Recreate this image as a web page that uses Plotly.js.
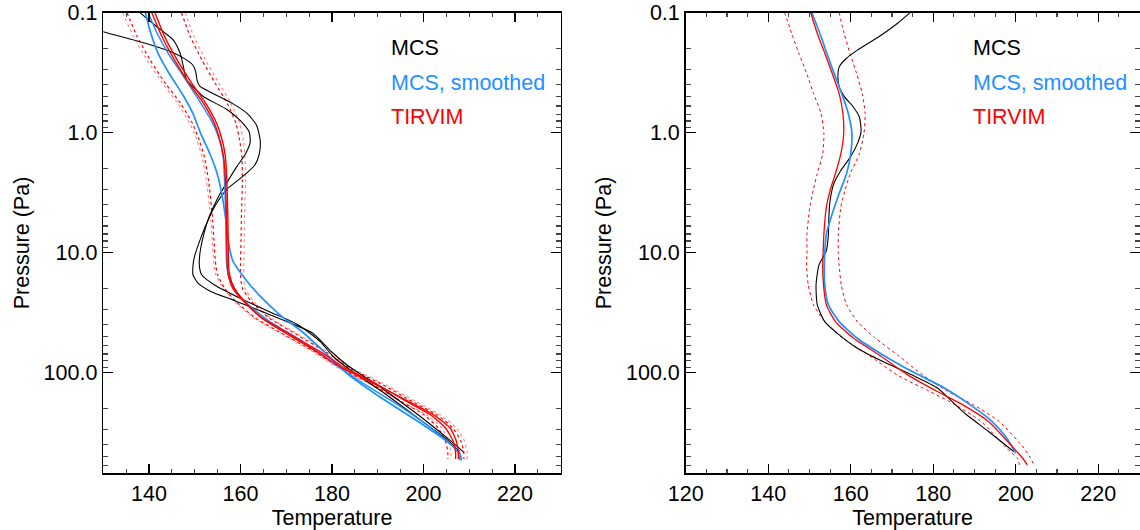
<!DOCTYPE html>
<html>
<head>
<meta charset="utf-8">
<script src="https://cdn.plot.ly/plotly-3.0.1.min.js"></script>
<style>html,body{margin:0;padding:0;background:#fff;}#chart{width:1140px;height:530px;}</style>
</head>
<body>
<div id="chart"></div>
<script>
// ---------- Left panel data (pressure in Pa, temperature in K) ----------
const L_blackA_P = [0.128,0.144,0.18,0.212,0.245,0.274,0.311,0.366,0.41,0.479,0.573,0.694,0.869,1.16,1.5,1.87,2.35,2.94,3.92,5.58,7.94,10.9,12.9,15.3,18.0,21.1,24.8,31.0,38.8,47.0,66.8,89,135,225,352,420,463];
const L_blackA_T = [126.0,130.0,139.2,144.8,148.0,149.6,150.2,150.5,151.1,154.3,158.3,161.5,163.5,164.3,164.1,163.1,160.3,157.1,154.7,152.7,151.1,149.9,149.6,149.6,150.7,153.5,158.3,164.7,171.0,175.8,179.8,183.7,190.9,198.8,205.2,207.6,208.8];

const L_blackB_P = [0.1,0.131,0.169,0.218,0.281,0.363,0.43,0.504,0.63,0.79,0.99,1.2,1.5,1.94,2.58,3.45,5.07,7.45,10.3,12.9,15.3,18.6,24.0,31.0,40.1,55.2,76,98,144,240,364,455];
const L_blackB_T = [138.0,141.7,145.3,146.8,147.5,148.2,150.0,152.0,156.7,159.9,161.9,162.1,161.1,159.1,157.1,155.1,153.1,151.8,151.1,151.0,151.5,154.3,159.9,166.2,172.6,177.4,180.6,184.5,190.9,198.8,205.2,207.9];

const L_blue1_P = [0.1,0.149,0.219,0.321,0.472,0.694,1.02,1.5,2.2,3.24,5.07,7.94,11.7,17.5,24.0,33.0,45.5,71.3,105,164,256,376,470,540];
const L_blue1_T = [139.2,140.4,142.0,144.4,147.2,149.6,151.3,153.3,154.9,155.9,156.7,157.3,158.3,161.5,164.7,168.6,173.4,179.0,183.7,190.9,198.8,205.2,207.9,208.3];

const L_blue2_P = [0.1,0.149,0.219,0.342,0.536,0.79,1.09,1.59,2.5,4.0,6.7,12.9,16.4,22.5,29.1,37.6,55.2,81,119,186,310,455,540];
const L_blue2_T = [139.8,141.8,144.2,147.6,150.9,153.6,155.2,156.2,156.5,156.7,156.8,157.0,157.6,159.6,162.6,166.4,173.6,179.8,186.2,194.4,202.6,207.4,208.0];

const L_P = [0.1,0.158,0.25,0.39,0.57,0.84,1.16,1.6,2.5,4.75,7.9,12.9,15.3,19.8,25.6,35,48.5,67,92,127,175,225,290,376,460,525];
const L_red1_T = [140.6,142.8,145.6,148.8,151.9,154.3,155.5,156.3,156.7,156.9,157.0,157.1,157.3,158.3,160.7,164.7,171.0,177.4,182.9,190.1,196.4,201.5,204.8,206.5,207.0,207.0];
const L_red2_T = [141.3,143.4,146.2,149.4,152.4,154.8,156.0,156.7,157.0,157.2,157.3,157.4,157.6,158.6,160.9,164.6,170.5,176.6,182.3,189.7,196.8,202.2,205.8,207.2,207.6,207.6];
const L_red1_lo = [135.2,137.4,140.3,143.6,146.9,149.5,151.0,152.1,153.0,153.8,154.2,154.6,155.0,156.5,159.0,163.2,169.6,176.2,181.8,189.0,195.2,200.1,203.2,204.8,205.3,205.3];
const L_red1_hi = [147.1,149.0,151.6,154.5,157.1,159.0,159.8,160.3,160.4,160.2,160.1,160.0,160.0,160.4,162.4,166.2,172.4,178.6,184.0,191.2,197.6,202.9,206.4,208.2,208.8,208.8];
const L_red2_lo = [134.3,136.6,139.6,143.0,146.3,148.9,150.5,151.6,152.5,153.4,153.8,154.2,154.6,156.2,158.7,162.9,169.3,175.8,181.4,188.6,195.0,200.6,204.0,205.5,206.0,206.0];
const L_red2_hi = [147.9,149.8,152.4,155.3,157.9,159.8,160.6,161.0,161.1,160.9,160.8,160.7,160.7,161.0,162.9,166.6,172.8,179.0,184.4,191.8,198.4,203.6,207.2,209.0,209.5,209.5];

// ---------- Right panel data ----------
const R_black_P = [0.1,0.123,0.158,0.205,0.241,0.283,0.343,0.415,0.503,0.591,0.74,0.986,1.24,1.6,2.07,2.67,3.67,5.07,6.98,9.62,12.7,18.6,27.3,37.6,48.5,62.7,81,105,135,175,225,310,455];
const R_black_T = [174.4,171.3,166.9,161.6,158.9,157.2,156.9,157.2,158.5,160.3,162.1,162.5,161.6,159.9,157.6,155.9,155.0,154.7,154.6,154.1,152.3,151.6,151.9,153.7,157.2,161.6,167.8,174.9,181.1,184.6,188.1,193.4,199.5];

const R_blue_P = [0.1,0.158,0.233,0.343,0.503,0.69,1.02,1.5,2.19,3.22,4.77,6.98,10.2,12.7,18.6,27.3,37.6,51.8,71.3,98.2,135,186,256,352,470];
const R_blue_T = [150.6,152.8,154.5,156.3,158.1,159.4,160.3,160.0,159.0,157.2,155.5,154.1,153.7,153.6,153.7,154.6,157.2,161.6,167.8,174.9,182.8,189.0,194.3,197.8,200.0];

const R_P = [0.1,0.149,0.217,0.32,0.473,0.69,1.02,1.5,2.19,3.03,4.17,6.98,10.2,12.7,18.6,27.3,37.6,51.8,71.3,105,144,186,256,427,518,588];
const R_red_T = [150.3,151.9,153.7,155.5,157.2,158.1,158.3,157.6,156.3,155.0,154.1,153.5,153.3,153.2,153.4,154.1,156.3,160.7,166.9,173.9,181.0,187.2,193.4,199.5,201.7,202.8];
const R_red_lo = [144.0,145.7,147.4,149.3,151.0,152.8,153.5,153.2,151.9,150.9,150.1,149.4,149.4,149.3,149.7,151.0,153.7,158.1,164.3,171.3,179.2,185.4,191.6,197.8,200.4,200.9];
const R_red_hi = [157.2,158.4,159.8,161.4,162.8,163.5,163.2,162.1,159.9,158.6,157.6,157.0,157.0,157.2,157.7,159.0,161.6,166.0,171.3,177.5,183.6,189.8,196.0,202.0,203.6,204.4];

// ---------- Text ----------
const legendLabels = ['MCS', 'MCS, smoothed', 'TIRVIM'];
const xTitle = 'Temperature';
const yTitle = 'Pressure (Pa)';
const yTickVals = [0.1, 1, 10, 100];
const yTickText = ['0.1', '1.0', '10.0', '100.0'];
const yMinorVals = [0.2,0.3,0.4,0.5,0.6,0.7,0.8,0.9,2,3,4,5,6,7,8,9,20,30,40,50,60,70,80,90,200,300,400,500,600];

// ---------- Styles ----------
const BLACK = '#000000', BLUE = '#1E90FF', RED = '#FF0000', PINK = '#FF8C8C';
const FONT = 'Liberation Sans, Arial, Helvetica, sans-serif';

function tr(T, P, color, width, dash, xa, ya) {
  return {x: T, y: P, type: 'scatter', mode: 'lines', xaxis: xa, yaxis: ya,
          line: {color: color, width: width, dash: dash || 'solid', shape: 'spline', smoothing: 0.6},
          hoverinfo: 'skip'};
}

const traces = [
  tr(L_red1_lo, L_P, RED, 1.2, 'dot', 'x', 'y'),
  tr(L_red1_hi, L_P, RED, 1.2, 'dot', 'x', 'y'),
  tr(L_red2_lo, L_P, PINK, 1.2, 'dot', 'x', 'y'),
  tr(L_red2_hi, L_P, PINK, 1.2, 'dot', 'x', 'y'),
  tr(L_blackA_T, L_blackA_P, BLACK, 1.1, null, 'x', 'y'),
  tr(L_blackB_T, L_blackB_P, BLACK, 1.1, null, 'x', 'y'),
  tr(L_blue1_T, L_blue1_P, BLUE, 1.7, null, 'x', 'y'),
  tr(L_blue2_T, L_blue2_P, BLUE, 1.5, null, 'x', 'y'),
  tr(L_red1_T, L_P, RED, 1.4, null, 'x', 'y'),
  tr(L_red2_T, L_P, RED, 1.4, null, 'x', 'y'),

  tr(R_red_lo, R_P, RED, 1.0, 'dot', 'x2', 'y2'),
  tr(R_red_hi, R_P, RED, 1.0, 'dot', 'x2', 'y2'),
  tr(R_black_T, R_black_P, BLACK, 1.1, null, 'x2', 'y2'),
  tr(R_blue_T, R_blue_P, BLUE, 1.7, null, 'x2', 'y2'),
  tr(R_red_T, R_P, RED, 1.3, null, 'x2', 'y2')
];

function xAxis(domain, range, anchor) {
  return {
    domain: domain, range: range, anchor: anchor,
    tickvals: [120, 140, 160, 180, 200, 220],
    ticks: 'inside', ticklen: 9, tickwidth: 1.3, tickcolor: '#000',
    minor: {dtick: 5, tick0: 0, ticks: 'inside', ticklen: 4.5, tickwidth: 1.1, tickcolor: '#444'},
    showline: true, linecolor: '#000', linewidth: 1.6, mirror: 'ticks',
    showgrid: false, zeroline: false, automargin: false,
    tickfont: {family: FONT, size: 21.5, color: '#000'},
    title: {text: xTitle, font: {family: FONT, size: 21.5, color: '#000'}, standoff: 0}
  };
}
function yAxis(domain, anchor) {
  return {
    domain: domain, type: 'log', range: [2.84, -1], anchor: anchor,
    tickvals: yTickVals, ticktext: yTickText,
    ticks: 'inside', ticklen: 10, tickwidth: 1.3, tickcolor: '#000',
    minor: {tickvals: yMinorVals, ticks: 'inside', ticklen: 5, tickwidth: 1.1, tickcolor: '#444'},
    showline: true, linecolor: '#000', linewidth: 1.6, mirror: 'ticks',
    showgrid: false, zeroline: false, automargin: false,
    tickfont: {family: FONT, size: 21.5, color: '#000'},
    title: {text: yTitle, font: {family: FONT, size: 21.5, color: '#000'}, standoff: 8}
  };
}

const yDom = [1 - 473.3/530, 1 - 12.7/530];
const layout = {
  width: 1140, height: 530,
  margin: {l: 0, r: 0, t: 0, b: 0},
  paper_bgcolor: '#fff', plot_bgcolor: '#fff',
  showlegend: false,
  xaxis: xAxis([103.3/1140, 560.8/1140], [130, 230], 'y'),
  yaxis: yAxis(yDom, 'x'),
  xaxis2: xAxis([685.7/1140, 1139.5/1140], [120, 230], 'y2'),
  yaxis2: yAxis(yDom, 'x2'),
  annotations: []
};

const legendColors = [BLACK, BLUE, RED];
const legendY = [48.3, 83.3, 116.7];
[389, 971.4].forEach(function(px) {
  legendLabels.forEach(function(lbl, i) {
    layout.annotations.push({
      text: lbl, xref: 'paper', yref: 'paper',
      x: px/1140, y: 1 - legendY[i]/530, xanchor: 'left', yanchor: 'middle',
      showarrow: false, font: {family: FONT, size: 21.5, color: legendColors[i]}
    });
  });
});

Plotly.newPlot('chart', traces, layout, {displayModeBar: false, staticPlot: true});
</script>
</body>
</html>
